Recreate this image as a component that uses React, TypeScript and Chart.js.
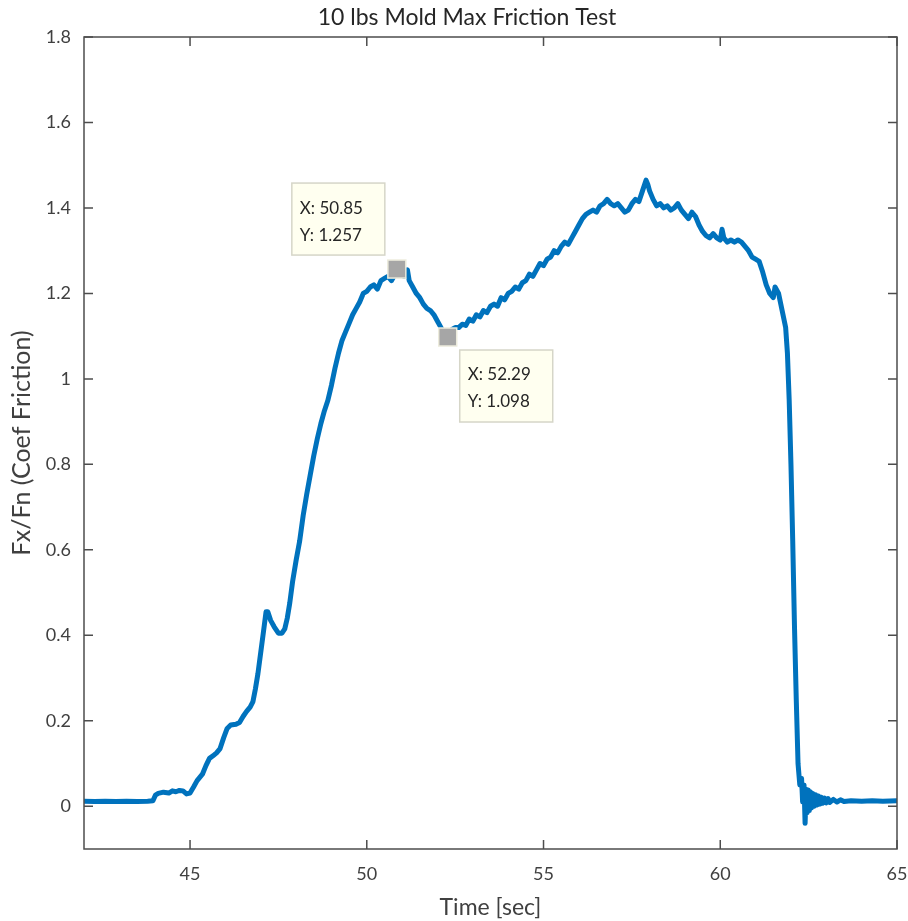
import React, { useEffect, useRef } from "react";
import { Chart, registerables } from "chart.js";

Chart.register(...registerables);

const chartTitle = "10 lbs Mold Max Friction Test";
const xAxisLabel = "Time [sec]";
const yAxisLabel = "Fx/Fn (Coef Friction)";

const xTickValues = [45, 50, 55, 60, 65];
const yTickValues = [0, 0.2, 0.4, 0.6, 0.8, 1, 1.2, 1.4, 1.6, 1.8];
const yTickLabels = ["0", "0.2", "0.4", "0.6", "0.8", "1", "1.2", "1.4", "1.6", "1.8"];

const timeVals = [
  42.0, 42.3, 42.6, 42.9, 43.2, 43.5, 43.8, 43.95, 44.02, 44.1, 44.25, 44.4, 44.5, 44.6, 44.7, 44.8, 44.9, 45.0,
  45.1, 45.2, 45.35, 45.45, 45.55, 45.65, 45.75, 45.85, 45.95, 46.05, 46.15, 46.3, 46.4, 46.5, 46.6, 46.7, 46.78,
  46.85, 46.92, 47.0, 47.08, 47.15, 47.2, 47.28, 47.38, 47.5, 47.6, 47.68, 47.75, 47.82, 47.9, 48.0, 48.1, 48.2,
  48.3, 48.4, 48.5, 48.6, 48.7, 48.8, 48.9, 49.0, 49.1, 49.2, 49.3, 49.4, 49.5, 49.6, 49.7, 49.8, 49.9, 50.0,
  50.1, 50.2, 50.3, 50.4, 50.5, 50.6, 50.7, 50.8, 50.85, 50.95, 51.05, 51.15, 51.2, 51.3, 51.4, 51.5, 51.6, 51.7,
  51.8, 51.9, 52.0, 52.1, 52.2, 52.29, 52.4, 52.5, 52.6, 52.7, 52.8, 52.9, 53.0, 53.1, 53.2, 53.3, 53.4, 53.5,
  53.6, 53.7, 53.8, 53.9, 54.0, 54.1, 54.2, 54.3, 54.4, 54.5, 54.6, 54.7, 54.8, 54.9, 55.0, 55.1, 55.2, 55.3,
  55.4, 55.5, 55.6, 55.7, 55.8, 55.9, 56.0, 56.1, 56.2, 56.3, 56.4, 56.5, 56.6, 56.7, 56.8, 56.9, 57.0, 57.1,
  57.2, 57.3, 57.4, 57.5, 57.6, 57.7, 57.8, 57.9, 57.95, 58.0, 58.1, 58.2, 58.3, 58.4, 58.5, 58.6, 58.7, 58.8,
  58.9, 59.0, 59.1, 59.2, 59.3, 59.4, 59.5, 59.6, 59.7, 59.8, 59.9, 60.0, 60.05, 60.1, 60.2, 60.3, 60.4, 60.5,
  60.6, 60.7, 60.8, 60.9, 61.0, 61.1, 61.2, 61.3, 61.4, 61.5, 61.55, 61.65, 61.75, 61.85, 61.9, 61.95, 62.0,
  62.05, 62.1, 62.15, 62.2, 62.25, 62.3, 62.33, 62.37, 62.4, 62.43, 62.46, 62.49, 62.52, 62.55, 62.58, 62.62,
  62.66, 62.7, 62.74, 62.78, 62.82, 62.86, 62.9, 62.95, 63.0, 63.05, 63.1, 63.2, 63.3, 63.4, 63.5, 63.7, 64.0,
  64.3, 64.6, 65.0,
];

const coefVals = [
  0.012, 0.011, 0.012, 0.011, 0.012, 0.011, 0.012, 0.013, 0.026, 0.03, 0.033, 0.031, 0.036, 0.034, 0.037, 0.036, 0.029, 0.031,
  0.045, 0.06, 0.075, 0.095, 0.112, 0.118, 0.125, 0.135, 0.16, 0.182, 0.19, 0.192, 0.196, 0.21, 0.222, 0.232, 0.245,
  0.275, 0.31, 0.36, 0.41, 0.455, 0.455, 0.435, 0.42, 0.405, 0.405, 0.415, 0.44, 0.475, 0.525, 0.575, 0.62, 0.68,
  0.73, 0.775, 0.82, 0.86, 0.895, 0.925, 0.95, 0.985, 1.025, 1.06, 1.09, 1.11, 1.13, 1.15, 1.165, 1.18, 1.2, 1.205,
  1.215, 1.22, 1.21, 1.23, 1.235, 1.24, 1.23, 1.245, 1.257, 1.245, 1.24, 1.255, 1.23, 1.215, 1.2, 1.19, 1.175, 1.165,
  1.16, 1.15, 1.135, 1.12, 1.105, 1.098, 1.115, 1.12, 1.12, 1.128, 1.125, 1.14, 1.135, 1.15, 1.145, 1.16, 1.155, 1.17,
  1.175, 1.17, 1.19, 1.185, 1.2, 1.205, 1.215, 1.21, 1.225, 1.23, 1.245, 1.24, 1.255, 1.27, 1.265, 1.28, 1.285, 1.3,
  1.295, 1.31, 1.32, 1.315, 1.33, 1.345, 1.36, 1.375, 1.385, 1.39, 1.395, 1.39, 1.405, 1.41, 1.42, 1.41, 1.405, 1.41,
  1.4, 1.39, 1.395, 1.41, 1.42, 1.415, 1.44, 1.465, 1.455, 1.44, 1.42, 1.405, 1.41, 1.4, 1.405, 1.395, 1.4, 1.41,
  1.395, 1.385, 1.375, 1.39, 1.38, 1.36, 1.345, 1.335, 1.33, 1.34, 1.33, 1.325, 1.35, 1.33, 1.32, 1.325, 1.32, 1.325,
  1.32, 1.31, 1.3, 1.285, 1.28, 1.275, 1.25, 1.22, 1.2, 1.19, 1.215, 1.2, 1.16, 1.12, 1.06, 0.95, 0.8,
  0.62, 0.42, 0.25, 0.1, 0.05, 0.065, 0.01, 0.05, -0.04, 0.04, -0.015, 0.038, -0.01, 0.034, -0.004, 0.03,
  0.0, 0.027, 0.003, 0.024, 0.005, 0.021, 0.007, 0.019, 0.008, 0.018, 0.009, 0.016, 0.01, 0.015, 0.011, 0.013, 0.012,
  0.013, 0.012, 0.013, 0.013,
];

const tipX = [50.85, 52.29];
const tipY = [1.257, 1.098];
const tipPlacement = ["upper-left", "lower-right"];

const FONT = "Lato, 'Open Sans', sans-serif";
const TEXT_COLOR = "#404040";
const AXIS_COLOR = "#4d4d4d";

const framePlugin = {
  id: "matlabFrame",
  afterDraw(chart: any) {
    const { ctx, chartArea, scales } = chart;
    const { left, right, top, bottom } = chartArea;
    const xs = scales.x;
    const ys = scales.y;
    ctx.save();

    // data tips
    for (let i = 0; i < tipX.length; i++) {
      const px = xs.getPixelForValue(tipX[i]);
      const py = ys.getPixelForValue(tipY[i]);
      const w = 93;
      const h = 72;
      let bx: number, by: number;
      if (tipPlacement[i] === "upper-left") {
        bx = px - 105;
        by = py - 86;
      } else {
        bx = px + 12;
        by = py + 13;
      }
      ctx.fillStyle = "#fffff0";
      ctx.fillRect(bx, by, w, h);
      ctx.strokeStyle = "#d6d6c8";
      ctx.lineWidth = 1.5;
      ctx.strokeRect(bx, by, w, h);
      ctx.fillStyle = "#262626";
      ctx.font = "17px " + FONT;
      ctx.textAlign = "left";
      ctx.textBaseline = "middle";
      ctx.fillText("X: " + tipX[i].toFixed(2), bx + 8, by + 25);
      ctx.fillText("Y: " + tipY[i].toFixed(3), bx + 8, by + 52);
      // marker
      ctx.fillStyle = "#a6a6a6";
      ctx.fillRect(px - 9, py - 9, 18, 18);
      ctx.strokeStyle = "#ecebdc";
      ctx.lineWidth = 1.5;
      ctx.strokeRect(px - 9, py - 9, 18, 18);
    }

    // box and inward ticks
    ctx.strokeStyle = AXIS_COLOR;
    ctx.lineWidth = 1.5;
    ctx.strokeRect(left, top, right - left, bottom - top);
    const tl = 9;
    ctx.beginPath();
    for (const v of xTickValues) {
      const x = xs.getPixelForValue(v);
      ctx.moveTo(x, bottom);
      ctx.lineTo(x, bottom - tl);
      ctx.moveTo(x, top);
      ctx.lineTo(x, top + tl);
    }
    for (const v of yTickValues) {
      const y = ys.getPixelForValue(v);
      ctx.moveTo(left, y);
      ctx.lineTo(left + tl, y);
      ctx.moveTo(right, y);
      ctx.lineTo(right - tl, y);
    }
    ctx.stroke();

    // title
    ctx.fillStyle = "#262626";
    ctx.font = "23px " + FONT;
    ctx.textAlign = "center";
    ctx.textBaseline = "middle";
    ctx.fillText(chartTitle, 467, 18);
    ctx.restore();
  },
};

export default function App() {
  const canvasRef = useRef<HTMLCanvasElement | null>(null);

  useEffect(() => {
    document.body.style.margin = "0";
    const canvas = canvasRef.current;
    if (!canvas) return;
    const points = timeVals.map((t, i) => ({ x: t, y: coefVals[i] }));
    const chart = new Chart(canvas, {
      type: "line",
      data: {
        datasets: [
          {
            data: points,
            borderColor: "#0072BD",
            borderWidth: 5,
            pointRadius: 0,
            tension: 0,
            borderJoinStyle: "round",
            borderCapStyle: "round",
            fill: false,
          },
        ],
      },
      options: {
        animation: false,
        responsive: false,
        maintainAspectRatio: false,
        layout: { padding: { top: 37, right: 11, left: 0, bottom: 0 } },
        plugins: {
          legend: { display: false },
          tooltip: { enabled: false },
          title: { display: false },
        },
        scales: {
          x: {
            type: "linear",
            min: 42,
            max: 65,
            afterBuildTicks: (scale: any) => {
              scale.ticks = xTickValues.map((v) => ({ value: v }));
            },
            afterFit: (scale: any) => {
              scale.height = 72;
              scale.paddingLeft = 0;
              scale.paddingRight = 0;
            },
            grid: { display: false, drawTicks: false },
            border: { display: false },
            ticks: {
              color: TEXT_COLOR,
              font: { family: FONT, size: 18 },
              padding: 14,
              maxRotation: 0,
              autoSkip: false,
              callback: (v: any) => String(v),
            },
            title: {
              display: true,
              text: xAxisLabel,
              color: TEXT_COLOR,
              font: { family: FONT, size: 23 },
              padding: { top: 0, bottom: 0 },
            },
          },
          y: {
            type: "linear",
            min: -0.1,
            max: 1.8,
            afterBuildTicks: (scale: any) => {
              scale.ticks = yTickValues.map((v) => ({ value: v }));
            },
            afterFit: (scale: any) => {
              scale.width = 84;
              scale.paddingTop = 0;
              scale.paddingBottom = 0;
            },
            grid: { display: false, drawTicks: false },
            border: { display: false },
            ticks: {
              color: TEXT_COLOR,
              font: { family: FONT, size: 18 },
              padding: 13,
              autoSkip: false,
              callback: (v: any) => {
                const idx = yTickValues.findIndex((t) => Math.abs(t - v) < 1e-9);
                return idx >= 0 ? yTickLabels[idx] : "";
              },
            },
            title: {
              display: true,
              text: yAxisLabel,
              color: TEXT_COLOR,
              font: { family: FONT, size: 25 },
              padding: { top: 7, bottom: 0 },
            },
          },
        },
      },
      plugins: [framePlugin],
    } as any);
    return () => chart.destroy();
  }, []);

  return (
    <div style={{ width: 908, height: 921 }}>
      <canvas ref={canvasRef} width={908} height={921} style={{ display: "block" }} />
    </div>
  );
}
